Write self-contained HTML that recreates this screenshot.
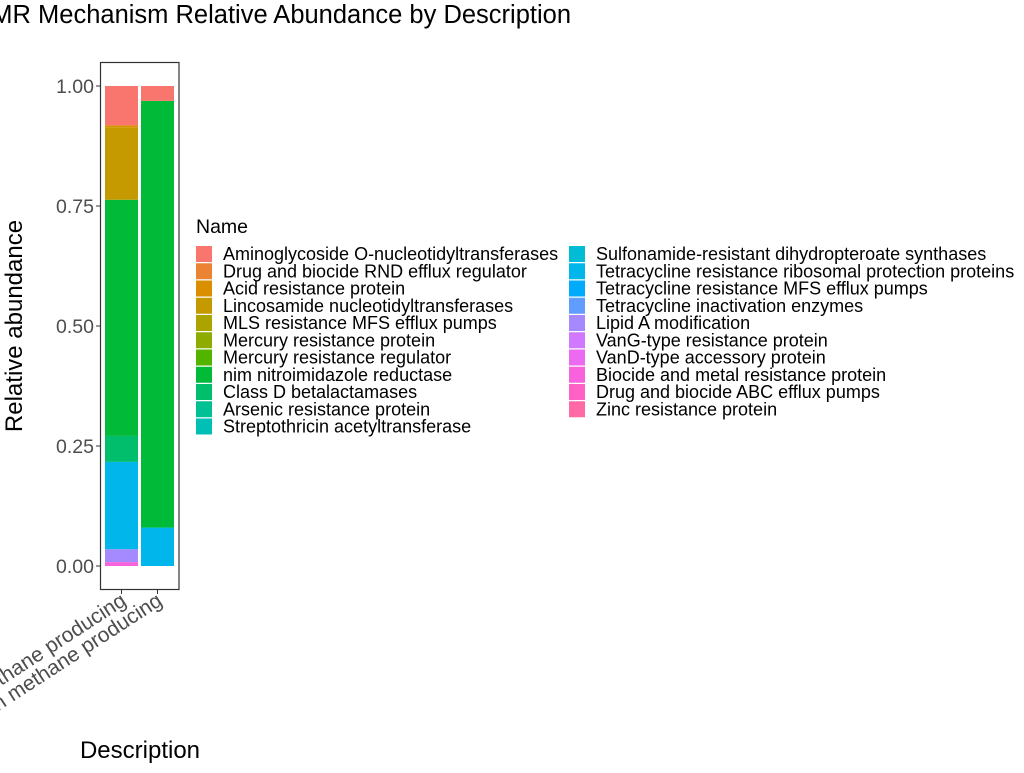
<!DOCTYPE html>
<html><head><meta charset="utf-8"><style>
body{margin:0;background:#fff;width:1024px;height:768px;overflow:hidden;font-family:"Liberation Sans",sans-serif}
</style></head><body>
<svg id="chart" width="1024" height="768" xmlns="http://www.w3.org/2000/svg" font-family="Liberation Sans, sans-serif">
<text x="571" y="23" font-size="25.5" text-anchor="end" fill="#000">AMR Mechanism Relative Abundance by Description</text>
<text transform="translate(22,326) rotate(-90)" font-size="24" text-anchor="middle" fill="#000">Relative abundance</text>
<text x="140" y="758" font-size="24" text-anchor="middle" fill="#000">Description</text>
<g id="plot"></g>
<rect x="100.5" y="62.5" width="78.5" height="527" fill="none" stroke="#333" stroke-width="1.2"/>
<text x="196" y="233" font-size="19.5" fill="#000">Name</text>
<g id="legend"></g>
</svg>
<script>
const names=["Aminoglycoside O-nucleotidyltransferases","Drug and biocide RND efflux regulator","Acid resistance protein","Lincosamide nucleotidyltransferases","MLS resistance MFS efflux pumps","Mercury resistance protein","Mercury resistance regulator","nim nitroimidazole reductase","Class D betalactamases","Arsenic resistance protein","Streptothricin acetyltransferase","Sulfonamide-resistant dihydropteroate synthases","Tetracycline resistance ribosomal protection proteins","Tetracycline resistance MFS efflux pumps","Tetracycline inactivation enzymes","Lipid A modification","VanG-type resistance protein","VanD-type accessory protein","Biocide and metal resistance protein","Drug and biocide ABC efflux pumps","Zinc resistance protein"];
const colors=["#F8766D","#EB8335","#DA8F00","#C49A00","#ABA300","#8EAB00","#53B400","#00BA38","#00BE6C","#00C094","#00C0B5","#00BCD4","#00B6EB","#00ABFD","#619CFF","#A58AFF","#D078FF","#EB6AF1","#F962DD","#FF61C5","#FF69A5"];
const categories=["Methane producing","Non methane producing"];
const seriesMethane={"Biocide and metal resistance protein":0.008,"Lipid A modification":0.027,"Tetracycline resistance ribosomal protection proteins":0.182,"Class D betalactamases":0.054,"nim nitroimidazole reductase":0.492,"Lincosamide nucleotidyltransferases":0.151,"Acid resistance protein":0.004,"Aminoglycoside O-nucleotidyltransferases":0.082};
const seriesNonMethane={"Tetracycline resistance ribosomal protection proteins":0.080,"nim nitroimidazole reductase":0.889,"Aminoglycoside O-nucleotidyltransferases":0.031};
const yTicks=[0,0.25,0.5,0.75,1];
const yTickLabels=["0.00","0.25","0.50","0.75","1.00"];
const NS="http://www.w3.org/2000/svg";
const y=v=>566-v*480;
const x=i=>105+i*36;
const bw=33;
const plot=document.getElementById('plot');
function mk(t,a){const e=document.createElementNS(NS,t);for(const k in a)e.setAttribute(k,a[k]);return e;}
[seriesMethane,seriesNonMethane].forEach((s,ci)=>{
  let cum=0;
  for(let k=names.length-1;k>=0;k--){
    const v=s[names[k]];if(!v)continue;
    const r=mk('rect',{x:x(ci),y:y(cum+v),width:bw,height:y(cum)-y(cum+v),fill:colors[k]});
    
    
    plot.appendChild(r);cum+=v;
  }
  const t=mk('line',{x1:x(ci)+bw/2,x2:x(ci)+bw/2,y1:590,y2:594,stroke:'#333'});
  
  
  plot.appendChild(t);
  const cx=x(ci)+bw/2+6, cy=604;
  const l=mk('text',{transform:`translate(${cx},${cy}) rotate(-33)`,'text-anchor':'end','font-size':'21',fill:'#4D4D4D'});
  l.textContent=categories[ci];
  
  
  plot.appendChild(l);
});
yTicks.forEach((v,i)=>{
  const t=mk('line',{x1:96,x2:100,y1:y(v),y2:y(v),stroke:'#333'});
  
  
  plot.appendChild(t);
  const l=mk('text',{x:94,y:y(v)+7,'text-anchor':'end','font-size':'19.5',fill:'#4D4D4D'});
  l.textContent=yTickLabels[i];
  
  
  plot.appendChild(l);
});
const leg=document.getElementById('legend');
names.forEach((n,i)=>{
  const col=i<11?0:1, row=i<11?i:i-11;
  const sx=col?569:196, ty=246+row*17.25;
  const g=mk('g',{});
  
  
  g.appendChild(mk('rect',{x:sx,y:ty,width:16,height:16,fill:colors[i]}));
  const t=mk('text',{x:sx+27,y:ty+14,'font-size':'18',fill:'#000'});
  t.textContent=n;g.appendChild(t);
  leg.appendChild(g);
});
</script>
</body></html>
